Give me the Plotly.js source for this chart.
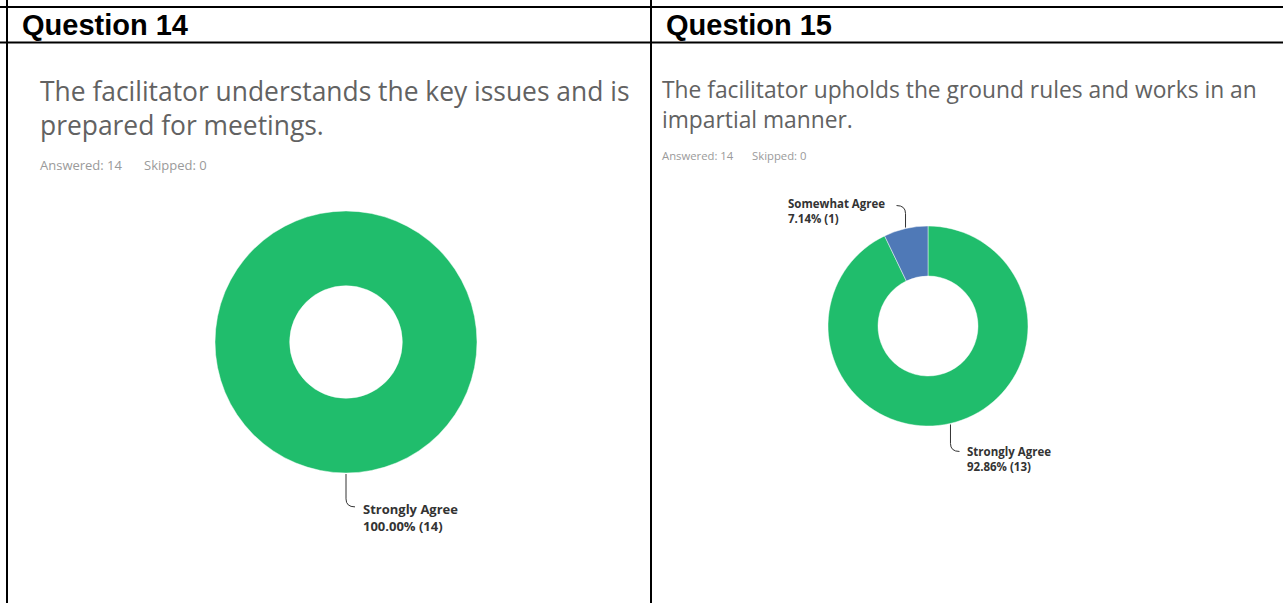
<!DOCTYPE html>
<html>
<head>
<meta charset="utf-8">
<script src="https://cdn.plot.ly/plotly-3.0.1.min.js"></script>
<style>html,body{margin:0;padding:0;background:#fff;}#chart{width:1283px;height:603px;}</style>
</head>
<body>
<div id="chart"></div>
<script>
// ---- data ----
const questionHeaders = ['Question 14', 'Question 15'];
const questionTexts = [
  ['The facilitator understands the key issues and is', 'prepared for meetings.'],
  ['The facilitator upholds the ground rules and works in an', 'impartial manner.']
];
const answeredCounts = [14, 14];
const skippedCounts = [0, 0];
const q14Labels = ['Strongly Agree'];
const q14Counts = [14];
const q15Labels = ['Strongly Agree', 'Somewhat Agree'];
const q15Counts = [13, 1];
const sliceColors = {'Strongly Agree': '#20bd6c', 'Somewhat Agree': '#4f79b7'};

// ---- layout helpers ----
const W = 1283, H = 603;
const px = x => x / W;
const py = y => 1 - y / H;

// pie geometry (pixels)
const pies = [
  {labels: q14Labels, values: q14Counts, cx: 346, cy: 342, r: 131, hole: 0.43, font: 13, titleSize: 26.4, titleX: 40, titleY: [91, 125], ansY: 165, ansSize: 13, ansX: [40, 144]},
  {labels: q15Labels, values: q15Counts, cx: 928, cy: 326, r: 100, hole: 0.5, font: 11.5, titleSize: 22.8, titleX: 662, titleY: [90, 119], ansY: 155, ansSize: 11.3, ansX: [662, 752]}
];

const data = [];
const shapes = [];
const annotations = [];

pies.forEach((p, i) => {
  data.push({
    type: 'pie',
    labels: p.labels,
    values: p.values,
    sort: false,
    direction: 'clockwise',
    rotation: 0,
    hole: p.hole,
    textinfo: 'none',
    hoverinfo: 'label+percent',
    showlegend: false,
    marker: {colors: p.labels.map(l => sliceColors[l]), line: {color: 'rgba(255,255,255,0.45)', width: 1}},
    domain: {x: [px(p.cx - p.r), px(p.cx + p.r)], y: [py(p.cy + p.r), py(p.cy - p.r)]}
  });

  // slice leader lines + labels
  const total = p.values.reduce((a, b) => a + b, 0);
  let cum = 0;
  p.values.forEach((v, k) => {
    const mid = (cum + v / 2) / total * 2 * Math.PI; // clockwise from 12 o'clock
    cum += v;
    const sx = p.cx + (p.r + 1) * Math.sin(mid);
    const sy = p.cy - (p.r + 1) * Math.cos(mid);
    const down = Math.cos(mid) < 0;
    const right = down; // lower labels go right, upper labels go left
    const L = down ? p.r * 0.19 : 14;
    const vy = sy + (down ? L : -L);
    const ex = sx + (right ? 9 : -9);
    const ey = vy + (down ? 8 : -8);
    shapes.push({
      type: 'path', xref: 'paper', yref: 'paper',
      path: `M ${px(sx)},${py(sy)} L ${px(sx)},${py(vy)} Q ${px(sx)},${py(ey)} ${px(ex)},${py(ey)}`,
      line: {color: '#333', width: 1}
    });
    const pct = (v / total * 100).toFixed(2) + '% (' + v + ')';
    annotations.push({
      xref: 'paper', yref: 'paper',
      x: px(ex + (right ? 6 : -10)), y: py(ey - (down ? 9 : 12)),
      xanchor: right ? 'left' : 'right', yanchor: 'top', align: 'left',
      showarrow: false,
      text: '<b>' + p.labels[k] + '</b><br><b>' + pct + '</b>',
      font: {family: 'Open Sans, sans-serif', size: p.font, color: '#333'}
    });
  });

  // question title lines
  questionTexts[i].forEach((t, j) => {
    annotations.push({
      xref: 'paper', yref: 'paper', x: px(p.titleX - 2), y: py(p.titleY[j]),
      xanchor: 'left', yanchor: 'middle', showarrow: false, text: t,
      font: {family: 'Open Sans, sans-serif', size: p.titleSize, color: '#626262'}
    });
  });
  annotations.push({
    xref: 'paper', yref: 'paper', x: px(p.ansX[0] - 2), y: py(p.ansY),
    xanchor: 'left', yanchor: 'middle', showarrow: false, text: 'Answered: ' + answeredCounts[i],
    font: {family: 'Open Sans, sans-serif', size: p.ansSize, color: '#9a9a9a'}
  });
  annotations.push({
    xref: 'paper', yref: 'paper', x: px(p.ansX[1] - 2), y: py(p.ansY),
    xanchor: 'left', yanchor: 'middle', showarrow: false, text: 'Skipped: ' + skippedCounts[i],
    font: {family: 'Open Sans, sans-serif', size: p.ansSize, color: '#9a9a9a'}
  });
});

// table header texts
[22, 666].forEach((x, i) => {
  annotations.push({
    xref: 'paper', yref: 'paper', x: px(x - 2), y: py(25.5),
    xanchor: 'left', yanchor: 'middle', showarrow: false,
    text: '<b>' + questionHeaders[i] + '</b>',
    font: {family: 'Liberation Sans, Arial, sans-serif', size: 29, color: '#000'}
  });
});

// table borders
const border = {color: '#000', width: 2};
shapes.push({type: 'line', xref: 'paper', yref: 'paper', x0: 0, x1: 1, y0: py(7), y1: py(7), line: border});
shapes.push({type: 'line', xref: 'paper', yref: 'paper', x0: 0, x1: 1, y0: py(42.5), y1: py(42.5), line: border});
shapes.push({type: 'line', xref: 'paper', yref: 'paper', x0: px(7), x1: px(7), y0: 0, y1: 1, line: border});
shapes.push({type: 'line', xref: 'paper', yref: 'paper', x0: px(651), x1: px(651), y0: 0, y1: 1, line: border});

const layout = {
  width: W, height: H,
  margin: {l: 0, r: 0, t: 0, b: 0},
  paper_bgcolor: '#fff',
  showlegend: false,
  shapes: shapes,
  annotations: annotations
};

Plotly.newPlot('chart', data, layout, {displayModeBar: false, staticPlot: true});
</script>
</body>
</html>
